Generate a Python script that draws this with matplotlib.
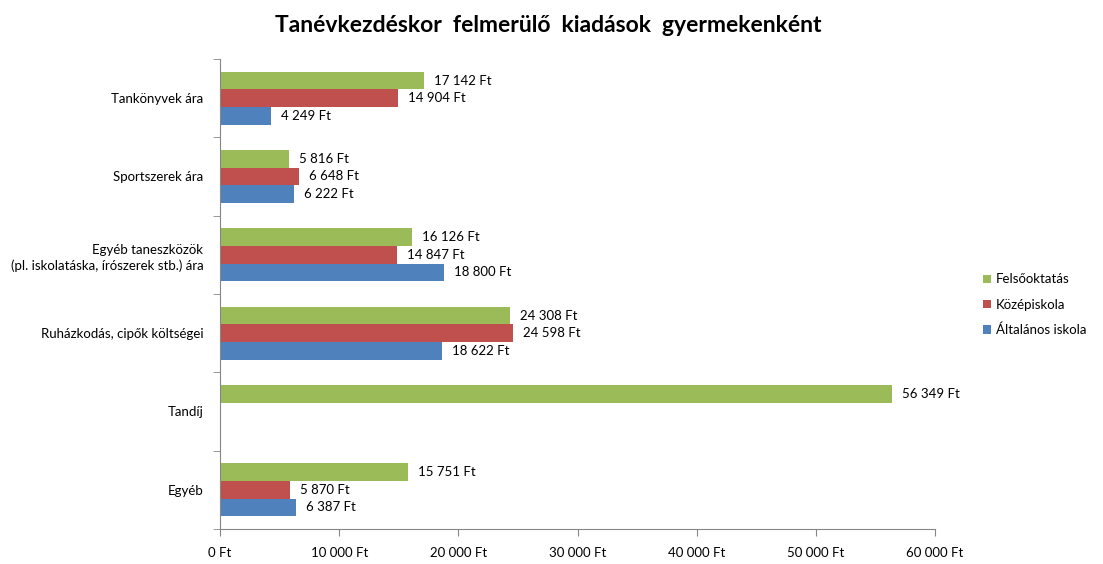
import numpy as np
import matplotlib.pyplot as plt
from matplotlib.ticker import FuncFormatter

categories = ['Tankönyvek ára', 'Sportszerek ára',
              'Egyéb taneszközök\n(pl. iskolatáska, írószerek stb.) ára',
              'Ruházkodás, cipők költségei', 'Tandíj', 'Egyéb']
series_names = ['Felsőoktatás', 'Középiskola', 'Általános iskola']
felso = [17142, 5816, 16126, 24308, 56349, 15751]
kozep = [14904, 6648, 14847, 24598, 0, 5870]
altalanos = [4249, 6222, 18800, 18622, 0, 6387]
colors = ['#9BBB59', '#C0504D', '#4F81BD']

plt.rcParams['font.family'] = ['Lato', 'DejaVu Sans']


def ft(v):
    return '{:,}'.format(int(v)).replace(',', ' ') + ' Ft'


fig = plt.figure(figsize=(11.03, 5.64), dpi=100)
ax = fig.add_axes([0.1995, 0.0621, 0.6483, 0.8333])

y = np.arange(len(categories))
h = 0.225
for k, (vals, name, c) in enumerate(zip([felso, kozep, altalanos], series_names, colors)):
    pos = y + (k - 1) * h
    vals = np.array(vals)
    mask = vals > 0
    ax.barh(pos[mask], vals[mask], height=h, color=c, label=name)
    for p, v in zip(pos[mask], vals[mask]):
        ax.text(v + 850, p, ft(v), va='center', ha='left', fontsize=9.5)

ax.set_ylim(len(categories) - 0.5, -0.5)
ax.set_xlim(0, 60000)
ax.set_xticks(np.arange(0, 60001, 10000))
ax.xaxis.set_major_formatter(FuncFormatter(lambda v, p: ft(v)))
ax.set_yticks(y)
ax.set_yticklabels(categories, fontsize=9.5, linespacing=1.4)
ax.set_yticks(np.arange(-0.5, len(categories)), minor=True)
ax.tick_params(axis='y', which='major', length=0, pad=12)
ax.tick_params(axis='y', which='minor', length=5, color='#868686', direction='out')
ax.tick_params(axis='x', length=5, color='#868686', labelsize=9.5, pad=8)
for s in ['top', 'right']:
    ax.spines[s].set_visible(False)
for s in ['left', 'bottom']:
    ax.spines[s].set_color('#868686')

fig.text(0.4975, 0.955, 'Tanévkezdéskor  felmerülő  kiadások  gyermekenként',
         ha='center', va='center', fontsize=16.5, fontweight='bold')

ax.legend(loc='center left', bbox_to_anchor=(1.05, 0.477), frameon=False,
          fontsize=9.5, handlelength=0.6, handleheight=0.6, labelspacing=1.0,
          handletextpad=0.4)

fig.savefig('out.png', dpi=100)
